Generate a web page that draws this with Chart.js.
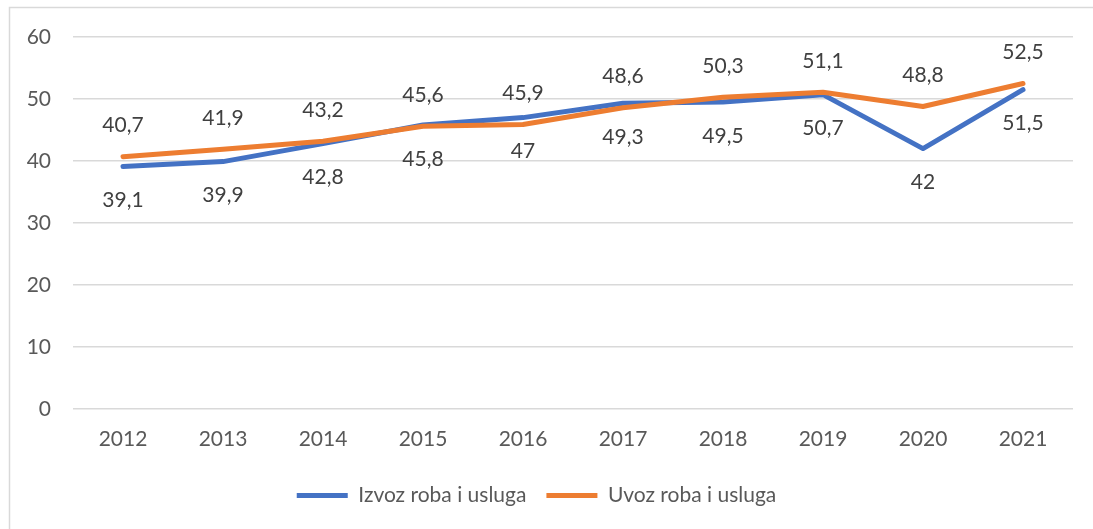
<!DOCTYPE html>
<html>
<head>
<meta charset="utf-8">
<script src="https://cdn.jsdelivr.net/npm/chart.js@4.4.1/dist/chart.umd.min.js"></script>
<style>
html,body{margin:0;padding:0;background:#fff;}
#wrap{width:1093px;height:529px;position:relative;}
</style>
</head>
<body>
<div id="wrap"><canvas id="c"></canvas></div>
<script>
const years = ['2012','2013','2014','2015','2016','2017','2018','2019','2020','2021'];
const izvoz = [39.1, 39.9, 42.8, 45.8, 47, 49.3, 49.5, 50.7, 42, 51.5];
const uvoz = [40.7, 41.9, 43.2, 45.6, 45.9, 48.6, 50.3, 51.1, 48.8, 52.5];
const seriesNames = ['Izvoz roba i usluga', 'Uvoz roba i usluga'];
const yTicks = [0, 10, 20, 30, 40, 50, 60];

const FONT = 'Lato, Carlito, "Open Sans", sans-serif';
const BLUE = '#4472C4';
const ORANGE = '#ED7D31';

const fmt = v => String(v).replace('.', ',');

const borderPlugin = {
  id: 'frame',
  beforeDraw(chart) {
    const ctx = chart.ctx;
    ctx.save();
    ctx.strokeStyle = '#d9d9d9';
    ctx.lineWidth = 1.5;
    ctx.strokeRect(9.5, 7.5, 3000, 3000);
    ctx.restore();
  }
};

const labelPlugin = {
  id: 'valueLabels',
  afterDatasetsDraw(chart) {
    const ctx = chart.ctx;
    ctx.save();
    ctx.font = '21px ' + FONT;
    ctx.fillStyle = '#404040';
    ctx.textAlign = 'center';
    ctx.textBaseline = 'middle';
    chart.data.datasets.forEach((ds, i) => {
      const meta = chart.getDatasetMeta(i);
      meta.data.forEach((pt, j) => {
        const off = ds.labelPos === 'above' ? -31 : 34;
        ctx.fillText(fmt(ds.data[j]), pt.x, pt.y + off);
      });
    });
    ctx.restore();
  }
};

new Chart(document.getElementById('c'), {
  type: 'line',
  data: {
    labels: years,
    datasets: [
      {
        label: seriesNames[0],
        data: izvoz,
        borderColor: BLUE,
        backgroundColor: BLUE,
        borderWidth: 5,
        pointRadius: 0,
        tension: 0,
        order: 1,
        labelPos: 'below',
        borderCapStyle: 'round',
        borderJoinStyle: 'round'
      },
      {
        label: seriesNames[1],
        data: uvoz,
        borderColor: ORANGE,
        backgroundColor: ORANGE,
        borderWidth: 5,
        pointRadius: 0,
        tension: 0,
        order: 0,
        labelPos: 'above',
        borderCapStyle: 'round',
        borderJoinStyle: 'round'
      }
    ]
  },
  options: {
    responsive: true,
    maintainAspectRatio: false,
    animation: false,
    layout: { padding: { left: 0, right: 20, top: 37, bottom: 13 } },
    plugins: {
      legend: {
        position: 'bottom',
        labels: {
          font: { family: FONT, size: 21 },
          color: '#595959',
          boxWidth: 51,
          boxHeight: 5,
          padding: 20,
          sort: (a, b) => a.datasetIndex - b.datasetIndex,
          generateLabels(chart) {
            return chart.data.datasets.map((ds, i) => ({
              text: ds.label,
              fillStyle: ds.borderColor,
              strokeStyle: ds.borderColor,
              lineWidth: 0,
              hidden: false,
              datasetIndex: i,
              fontColor: '#595959'
            }));
          }
        }
      },
      tooltip: { enabled: false }
    },
    scales: {
      x: {
        offset: true,
        grid: { display: false, drawTicks: false, offset: true },
        border: { display: false },
        ticks: { font: { family: FONT, size: 21 }, color: '#595959', padding: 18, maxRotation: 0 },
        afterFit(s) { s.height = 56; }
      },
      y: {
        min: 0, max: 60,
        afterBuildTicks(s) { s.ticks = yTicks.map(v => ({ value: v })); },
        grid: { color: '#d9d9d9', lineWidth: 1.5, drawTicks: false },
        border: { display: false },
        ticks: { font: { family: FONT, size: 21 }, color: '#595959', padding: 22 },
        afterFit(s) { s.width = 73; }
      }
    }
  },
  plugins: [borderPlugin, labelPlugin]
});
</script>
</body>
</html>
